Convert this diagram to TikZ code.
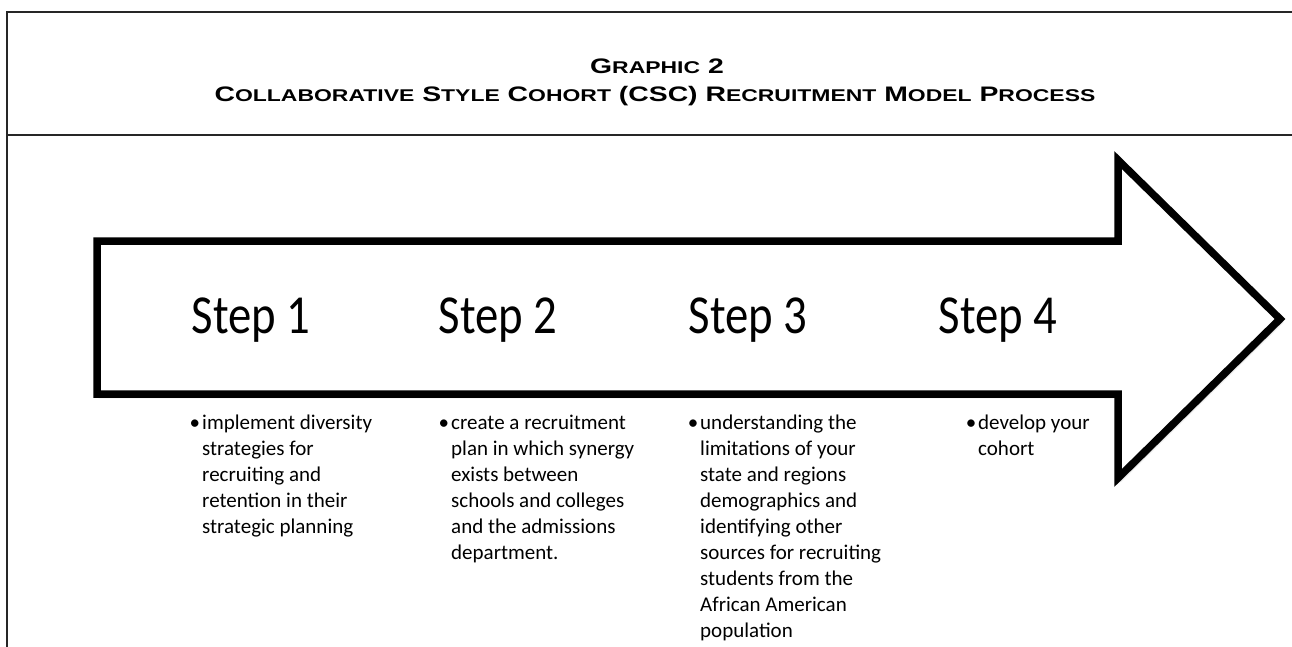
\documentclass[tikz,border=0pt]{standalone}
\usepackage{fontspec}
\setmainfont{Carlito}
\newfontfamily\headfont{Liberation Sans}
\usetikzlibrary{shadows.blur}

% lower-case part of a heading word, set as small capitals
\newcommand\smallcap[1]{{\fontsize{17}{20}\selectfont #1}}
% heading lines are set wide
\newcommand\wide[1]{\scalebox{1.35}[1]{#1}}

\begin{document}
\begin{tikzpicture}[x=1pt,y=-1pt,
  headline/.style={anchor=base,inner sep=0pt,font=\headfont\bfseries\fontsize{21}{24}\selectfont},
  steplabel/.style={anchor=base,inner sep=0pt,font=\fontsize{55}{60}\selectfont},
  bulletbox/.style={anchor=north west,inner sep=0pt,align=left,font=\fontsize{21}{26}\selectfont}]
\path[use as bounding box] (0,0) rectangle (1292,647);
% frame and heading
\draw[black!85,line width=2.5pt] (1292,12) -- (7,12) -- (7,647);
\draw[black!85,line width=2.5pt] (7,135) -- (1292,135);
\node[headline] (graphic) at (657,74) {\wide{G\smallcap{RAPHIC} 2}};
\node[headline] (heading) at (655,102) {\wide{C\smallcap{OLLABORATIVE} S\smallcap{TYLE} C\smallcap{OHORT} (CSC) R\smallcap{ECRUITMENT} M\smallcap{ODEL} P\smallcap{ROCESS}}};
% big arrow
\draw[line width=7.5pt,fill=white,
  blur shadow={shadow xshift=2pt,shadow yshift=-3pt,shadow blur steps=6,shadow opacity=35}]
  (97,241) -- (1118,241) -- (1118,160) -- (1280,319) -- (1118,478) -- (1118,394) -- (97,394) -- cycle;
\foreach \i/\x in {1/251,2/498,3/748,4/998}
  \node[steplabel] (step\i) at (\x,333) {\scalebox{0.85}[1]{Step \i}};
% bullet texts under the steps
\node[bulletbox] (text1) at (202,415) {\llap{\textbullet\hspace{2pt}}implement diversity\\strategies for\\recruiting and\\retention in their\\strategic planning};
\node[bulletbox] (text2) at (451,415) {\llap{\textbullet\hspace{2pt}}create a recruitment\\plan in which synergy\\exists between\\schools and colleges\\and the admissions\\department.};
\node[bulletbox] (text3) at (700,415) {\llap{\textbullet\hspace{2pt}}understanding the\\limitations of your\\state and regions\\demographics and\\identifying other\\sources for recruiting\\students from the\\African American\\population};
\node[bulletbox] (text4) at (978,415) {\llap{\textbullet\hspace{2pt}}develop your\\cohort};
\end{tikzpicture}
\end{document}
